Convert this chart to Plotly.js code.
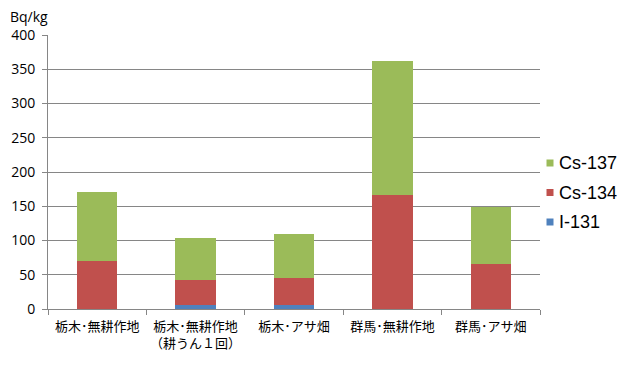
<!DOCTYPE html>
<html>
<head>
<meta charset="utf-8">
<script src="https://cdn.plot.ly/plotly-3.0.1.min.js"></script>
<style>html,body{margin:0;padding:0;background:#fff;}#chart{width:635px;height:386px;}</style>
</head>
<body>
<div id="chart"></div>
<script>
const categories = ["栃木･無耕作地", "栃木･無耕作地<br>（耕うん１回）", "栃木･アサ畑", "群馬･無耕作地", "群馬･アサ畑"];
const seriesNames = ["I-131", "Cs-134", "Cs-137"];
const seriesColors = ["#4F81BD", "#C0504D", "#9BBB59"];
const i131 = [0, 6, 6, 0, 0];
const cs134 = [70, 36, 39, 166, 66];
const cs137 = [101, 61, 64, 196, 83];
const yTicks = [0, 50, 100, 150, 200, 250, 300, 350, 400];
const seriesValues = [i131, cs134, cs137];

const W = 635, H = 386;
const M = {l: 48, r: 95, t: 35, b: 77};
const pw = W - M.l - M.r, ph = H - M.t - M.b;
const px = x => (x - M.l) / pw;
const py = y => (H - M.b - y) / ph;

const traces = seriesNames.map((n, i) => ({
  type: "bar", x: categories, y: seriesValues[i], name: n,
  marker: {color: seriesColors[i], line: {width: 0}}, hoverinfo: "none"
}));

// custom legend (Cs-137 on top)
const shapes = [], annotations = [];
const legendOrder = [2, 1, 0];
legendOrder.forEach((k, j) => {
  const cy = 163 + j * 29.5;
  shapes.push({type: "rect", xref: "paper", yref: "paper",
    x0: px(546.5), x1: px(553.5), y0: py(cy + 3.5), y1: py(cy - 3.5),
    fillcolor: seriesColors[k], line: {width: 0}});
  annotations.push({text: seriesNames[k], xref: "paper", yref: "paper",
    x: px(557), y: py(cy), xanchor: "left", yanchor: "middle", showarrow: false,
    font: {size: 18, family: "Liberation Sans, Arial, sans-serif", color: "#000"}});
});
annotations.push({text: "Bq/kg", xref: "paper", yref: "paper", x: px(8), y: py(16),
  xanchor: "left", yanchor: "middle", showarrow: false,
  font: {size: 14, family: "Open Sans, Liberation Sans, sans-serif", color: "#000"}});

const layout = {
  width: W, height: H,
  margin: Object.assign({autoexpand: false}, M),
  paper_bgcolor: "#fff", plot_bgcolor: "#fff",
  barmode: "stack", bargap: 0.59,
  font: {family: "Liberation Sans, Arial, sans-serif", color: "#000", size: 13},
  showlegend: false,
  xaxis: {type: "category", showline: true, linecolor: "#868686", linewidth: 1,
    ticks: "outside", tickson: "boundaries", ticklen: 5, tickcolor: "#868686",
    tickangle: 0, automargin: false, ticklabelstandoff: 5,
    tickfont: {family: "Noto Sans CJK JP", size: 13}, showgrid: false},
  yaxis: {range: [0, 400], tickvals: yTicks, ticktext: yTicks.map(String),
    showline: true, linecolor: "#868686", linewidth: 1,
    ticks: "outside", ticklen: 5, tickcolor: "#868686", ticklabelstandoff: 4,
    gridcolor: "#868686", gridwidth: 1, zeroline: false, automargin: false,
    tickfont: {size: 14, family: "Open Sans, Liberation Sans, sans-serif"}},
  shapes: shapes,
  annotations: annotations
};

Plotly.newPlot("chart", traces, layout, {displayModeBar: false, staticPlot: true});
</script>
</body>
</html>
